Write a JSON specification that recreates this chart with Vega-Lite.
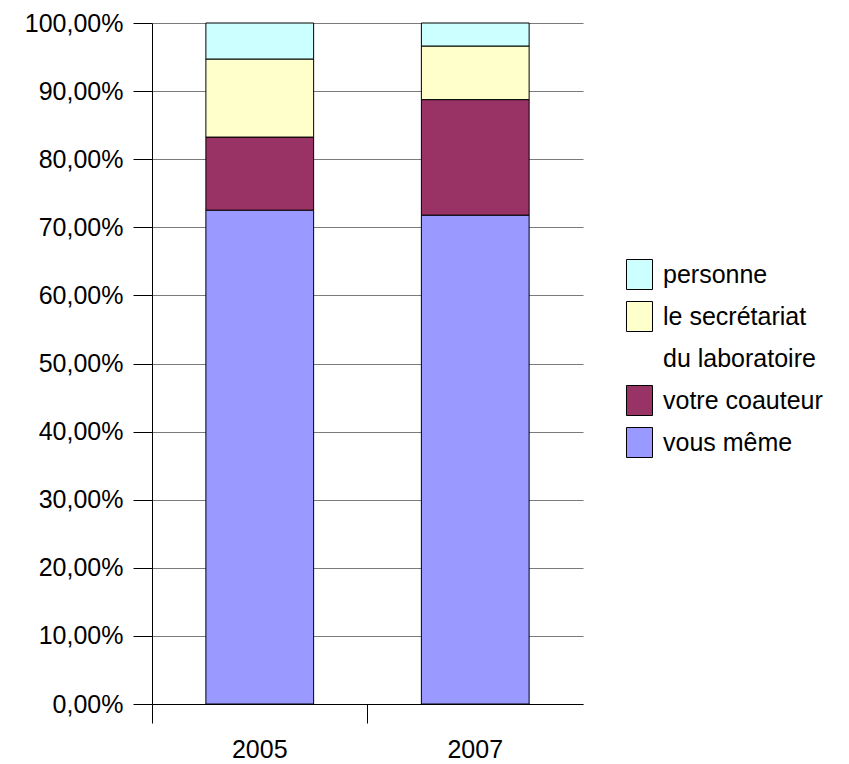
{
  "$schema": "https://vega.github.io/schema/vega-lite/v6.json",
  "width": 431,
  "height": 681,
  "autosize": {"type": "none"},
  "padding": {"left": 152, "top": 23, "right": 266, "bottom": 60},
  "background": "white",
  "config": {
    "locale": {"number": {"decimal": ",", "thousands": " ", "grouping": [3], "currency": ["", " €"]}},
    "font": "Liberation Sans",
    "view": {"stroke": null}
  },
  "data": {
    "values": [
      {"annee": "2005", "reponse": "vous même", "rang": 1, "part": 0.7252},
      {"annee": "2005", "reponse": "votre coauteur", "rang": 2, "part": 0.1073},
      {"annee": "2005", "reponse": "le secrétariat du laboratoire", "rang": 3, "part": 0.1146},
      {"annee": "2005", "reponse": "personne", "rang": 4, "part": 0.0529},
      {"annee": "2007", "reponse": "vous même", "rang": 1, "part": 0.7179},
      {"annee": "2007", "reponse": "votre coauteur", "rang": 2, "part": 0.1696},
      {"annee": "2007", "reponse": "le secrétariat du laboratoire", "rang": 3, "part": 0.0787},
      {"annee": "2007", "reponse": "personne", "rang": 4, "part": 0.0338}
    ]
  },
  "mark": {"type": "bar", "stroke": "black", "strokeWidth": 1},
  "encoding": {
    "x": {
      "field": "annee",
      "type": "nominal",
      "scale": {"paddingInner": 0.5, "paddingOuter": 0.25},
      "axis": {
        "title": null,
        "labelAngle": 0,
        "bandPosition": -0.5,
        "labelOffset": 0,
        "tickSize": 19,
        "tickColor": "black",
        "domainColor": "black",
        "labelFontSize": 25,
        "labelColor": "black",
        "labelPadding": 14
      }
    },
    "y": {
      "field": "part",
      "type": "quantitative",
      "stack": "zero",
      "scale": {"domain": [0, 1], "nice": false},
      "axis": {
        "title": null,
        "values": [0, 0.1, 0.2, 0.3, 0.4, 0.5, 0.6, 0.7, 0.8, 0.9, 1],
        "format": ".2%",
        "tickSize": 19,
        "tickColor": "black",
        "domainColor": "black",
        "gridColor": "#7a7a7a",
        "gridOpacity": 1,
        "labelFontSize": 25,
        "labelColor": "black",
        "labelPadding": 10
      }
    },
    "color": {
      "field": "reponse",
      "type": "nominal",
      "scale": {
        "domain": ["personne", "le secrétariat du laboratoire", "du laboratoire", "votre coauteur", "vous même"],
        "range": ["#CCFFFF", "#FFFFCC", "transparent", "#993366", "#9999FF"]
      },
      "legend": {
        "title": null,
        "orient": "none",
        "legendX": 472,
        "legendY": 236,
        "padding": 0,
        "symbolType": "M-0.867,-1L0.867,-1L0.867,1L-0.867,1Z",
        "symbolSize": 900,
        "symbolStrokeColor": {"expr": "datum.value == 'du laboratoire' ? 'transparent' : 'black'"},
        "symbolStrokeWidth": 1,
        "symbolOpacity": 1,
        "labelFontSize": 25,
        "labelColor": "black",
        "labelLimit": 300,
        "labelOffset": 8,
        "rowPadding": 7,
        "labelExpr": "datum.label == 'le secrétariat du laboratoire' ? 'le secrétariat' : datum.label"
      }
    },
    "order": {"field": "rang", "type": "quantitative", "sort": "ascending"}
  }
}
